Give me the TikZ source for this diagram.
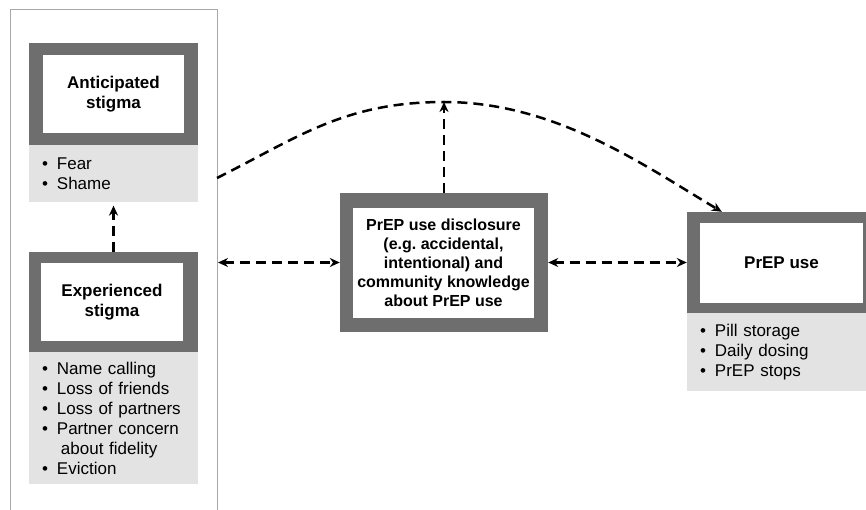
\documentclass[tikz,border=0pt]{standalone}
\usepackage{fontspec}
\setmainfont{Liberation Sans}
\usetikzlibrary{arrows.meta,calc,positioning}
\definecolor{boxgray}{HTML}{6E6E6E}
\definecolor{listgray}{HTML}{E3E3E3}
\definecolor{framegray}{HTML}{A8A8A8}
\newcommand{\itm}{\textbullet\hspace{9pt}}

\begin{document}
\begin{tikzpicture}[x=1pt,y=-1pt,
    >={Stealth[length=10pt,width=9pt]},
    outerbox/.style={fill=boxgray, inner sep=0pt},
    innerbox/.style={fill=white, inner sep=0pt, align=center, font=\bfseries\fontsize{17}{20}\selectfont},
    listbox/.style={fill=listgray, inner xsep=13pt, inner ysep=0pt, align=left, anchor=north west, font=\fontsize{17}{20}\selectfont},
    link/.style={line width=2.5pt, dash pattern=on 10pt off 6pt}]
    \clip (0,0) rectangle (866,510);
    % stigma frame
    \draw[framegray, line width=1pt] (10,512) |- (217,10) -- (217,512);
    \coordinate (arcStart) at (217,178);
    \coordinate (leftEnd) at (218,262.5);
    \coordinate (apex) at (444,102);

    \node[outerbox, minimum width=169pt, minimum height=102pt] (anticOut) at (113.5,94) {};
    \node[innerbox, minimum width=141pt, minimum height=78pt] (anticIn) at (113.5,94) {Anticipated\\stigma};
    \node[listbox, text width=143pt, minimum height=57pt] (anticList) at (anticOut.south west) {\itm Fear\\\itm Shame};

    \node[outerbox, minimum width=169pt, minimum height=100pt] (expOut) at (113.5,302) {};
    \node[innerbox, minimum width=142pt, minimum height=78pt] (expIn) at (112,302) {Experienced\\stigma};
    \node[listbox, text width=143pt, minimum height=132pt] (expList) at (expOut.south west) {\itm Name calling\\\itm Loss of friends\\\itm Loss of partners\\\itm Partner concern\\\phantom{\textbullet}\hspace{13pt}about fidelity\\\itm Eviction};

    \node[outerbox, minimum width=208pt, minimum height=139pt] (midOut) at (444,262.5) {};
    \node[innerbox, minimum width=181pt, minimum height=110pt, font=\bfseries\fontsize{16}{19}\selectfont] (midIn) at (443.5,263) {PrEP use disclosure\\(e.g.\ accidental,\\intentional) and\\community knowledge\\about PrEP use};

    \node[outerbox, minimum width=189pt, minimum height=101pt] (prepOut) at (781.5,262.5) {};
    \node[innerbox, minimum width=163pt, minimum height=80pt] (prepIn) at (781.5,263) {PrEP use};
    \node[listbox, text width=163pt, minimum height=78pt] (prepList) at (prepOut.south west) {\itm Pill storage\\\itm Daily dosing\\\itm PrEP stops};

    % connectors
    \draw[link,->,shorten >=3pt] (expOut.north) -- (anticList.south);
    \draw[link,<->] (leftEnd) -- (midOut.west);
    \draw[link,<->] (midOut.east) -- (prepOut.west);
    \draw[link,->] (midOut.north) -- (apex);
    \draw[link,->] (arcStart) .. controls +(80,-40) and +(-100,0) .. (apex)
        .. controls +(110,0) and +(-80,-48) .. ($(prepOut.north west)+(35,0)$);
\end{tikzpicture}
\end{document}
